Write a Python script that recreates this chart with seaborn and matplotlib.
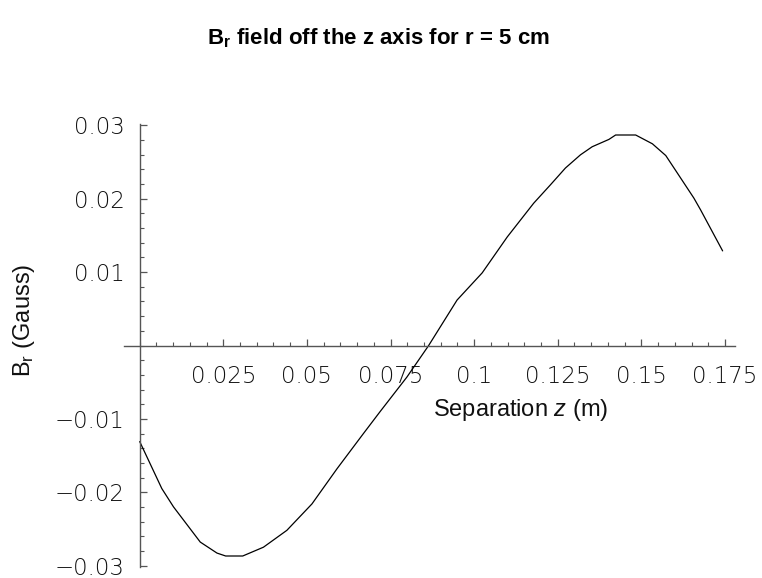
import matplotlib
matplotlib.use("Agg")
import matplotlib.pyplot as plt
import seaborn as sns
import pandas as pd
from matplotlib.ticker import FixedLocator, MultipleLocator

# Data
z_m = [0.0000, 0.0066, 0.0101, 0.0181, 0.0231, 0.0257, 0.0308, 0.0370, 0.0440,
       0.0515, 0.0590, 0.0669, 0.0719, 0.0799, 0.0864, 0.0949, 0.1024, 0.1099,
       0.1178, 0.1228, 0.1273, 0.1318, 0.1353, 0.1403, 0.1423, 0.1483, 0.1533,
       0.1573, 0.1602, 0.1657, 0.1677, 0.1743]
br_gauss = [-0.0131, -0.0195, -0.0220, -0.0268, -0.0283, -0.0287, -0.0287, -0.0275,
            -0.0252, -0.0216, -0.0168, -0.0120, -0.0090, -0.0043, 0.0000, 0.0062,
            0.0099, 0.0148, 0.0194, 0.0219, 0.0242, 0.0260, 0.0271, 0.0281,
            0.0287, 0.0287, 0.0275, 0.0259, 0.0239, 0.0201, 0.0185, 0.0129]
x_ticks = [0.025, 0.05, 0.075, 0.1, 0.125, 0.15, 0.175]
x_tick_labels = ["0.025", "0.05", "0.075", "0.1", "0.125", "0.15", "0.175"]
y_ticks = [-0.03, -0.02, -0.01, 0.01, 0.02, 0.03]
y_tick_labels = ["\u22120.03", "\u22120.02", "\u22120.01", "0.01", "0.02", "0.03"]

sns.set_theme(style="white")
plt.rcParams['font.family'] = ['DejaVu Sans']
plt.rcParams['mathtext.fontset'] = 'custom'
plt.rcParams['mathtext.rm'] = 'Liberation Sans'
plt.rcParams['mathtext.it'] = 'Liberation Sans:italic'
plt.rcParams['mathtext.bf'] = 'Liberation Sans:bold'

df = pd.DataFrame({"z": z_m, "Br": br_gauss})

fig = plt.figure(figsize=(7.62, 5.78), dpi=100)
ax = fig.add_axes([124/762, 1 - 567/578, 611/762, 443/578])
sns.lineplot(data=df, x="z", y="Br", ax=ax, color="black", linewidth=0.9,
             sort=False, estimator=None)
ax.set_xlim(-0.0047, 0.178)
ax.set_ylim(-0.0302, 0.0302)

for s in ["top", "right"]:
    ax.spines[s].set_visible(False)
for s in ["left", "bottom"]:
    ax.spines[s].set_position(("data", 0))
    ax.spines[s].set_color("#555555")
    ax.spines[s].set_linewidth(1.0)

ax.xaxis.set_major_locator(FixedLocator(x_ticks))
ax.set_xticklabels(x_tick_labels)
ax.yaxis.set_major_locator(FixedLocator(y_ticks))
ax.set_yticklabels(y_tick_labels)
ax.xaxis.set_minor_locator(MultipleLocator(0.005))
ax.yaxis.set_minor_locator(MultipleLocator(0.002))
ax.tick_params(which="both", bottom=True, left=True, top=False, right=False)
ax.tick_params(which="major", direction="in", length=5, width=0.9, color="#555555",
               labelsize=16.5, labelcolor="#111111")
ax.tick_params(which="minor", direction="in", length=3, width=0.8, color="#555555")
ax.tick_params(axis="x", which="major", pad=14)
ax.tick_params(axis="y", which="major", pad=11)
for lab in ax.get_xticklabels() + ax.get_yticklabels():
    lab.set_fontweight("light")
ax.set_xlabel("")
ax.set_ylabel("")
ax.grid(False)

fig.text(521/762, 1 - 410/578, "Separation $z$ (m)", ha="center", va="center",
         fontsize=17, family="Liberation Sans", color="#111111")
fig.text(24/762, 1 - 320/578, "B$_\\mathrm{r}$ (Gauss)", ha="center", va="center",
         rotation=90, fontsize=17, family="Liberation Sans", color="#111111")
fig.text(379/762, 1 - 38/578, "$\\mathbf{B_r}$ field off the z axis for r = 5 cm",
         ha="center", va="center", fontsize=16, fontweight="bold",
         family="Liberation Sans", color="black")

fig.savefig("out.png", dpi=100)
